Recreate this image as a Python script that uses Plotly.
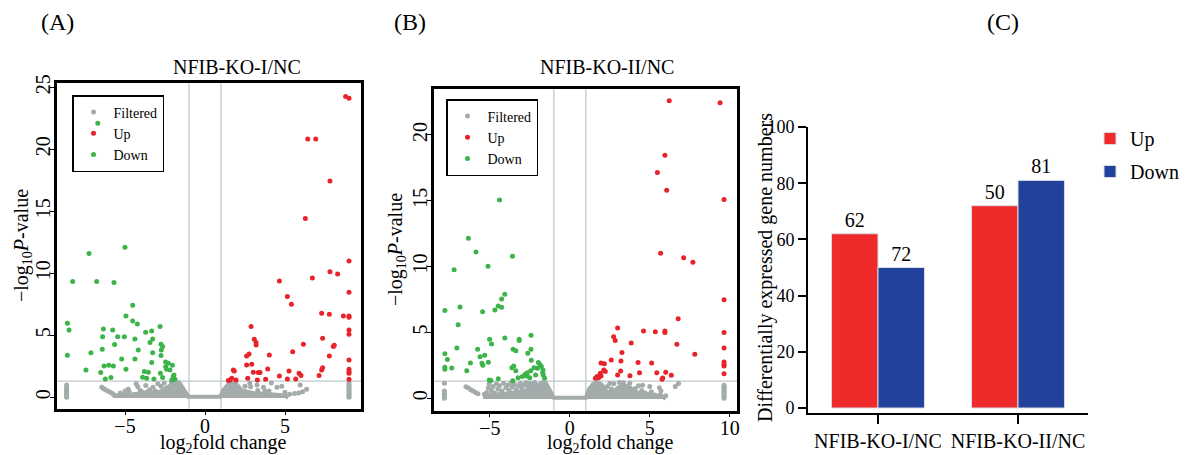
import plotly.graph_objects as go

# ---------------- data ----------------
# thresholds used in the volcano plots
fc_cut = 1.0          # |log2 fold change|
p_cut = 1.3           # -log10(0.05)

# Panel A : NFIB-KO-I/NC  (x = log2 fold change, y = -log10 P)
a_up = [(8.79, 24.25), (9.0, 24.11), (6.42, 20.83), (6.92, 20.83), (7.81, 17.45), (6.27, 14.41),
        (9.0, 10.99), (4.65, 9.38), (7.81, 10.13), (8.29, 9.95), (6.71, 9.62), (9.0, 8.47),
        (5.15, 8.12), (5.4, 7.5), (7.29, 6.77), (7.77, 6.69), (8.65, 6.56), (9.0, 6.56),
        (9.0, 6.45), (9.0, 5.43), (9.0, 5.08), (2.88, 5.70), (3.08, 4.68), (3.19, 4.41),
        (3.19, 4.22), (7.35, 4.76), (6.15, 4.27), (8.02, 4.09), (8.08, 4.19), (5.48, 3.68),
        (4.02, 3.41), (2.75, 3.49), (2.6, 3.33), (7.77, 3.33), (9.0, 3.01), (2.6, 2.61),
        (2.92, 2.66), (1.77, 2.2), (1.83, 2.12), (3.02, 2.02), (3.33, 1.99), (3.44, 1.99),
        (3.92, 2.28), (5.25, 2.12), (7.29, 2.2), (7.35, 2.39), (9.0, 2.26), (9.0, 2.07),
        (9.0, 1.94), (5.88, 1.94), (6.0, 1.75), (7.13, 1.75), (4.65, 1.72), (5.15, 1.48),
        (5.67, 1.48), (2.67, 1.53), (3.27, 1.40), (3.79, 1.45), (1.56, 1.40), (1.67, 1.53),
        (1.94, 1.40), (9.0, 1.45), (1.46, 1.35)]
a_down = [(-5.0, 12.1), (-7.25, 11.6), (-8.27, 9.33), (-6.77, 9.33), (-5.69, 9.25), (-4.52, 7.42),
          (-4.94, 6.56), (-4.52, 6.16), (-4.23, 5.91), (-8.6, 5.97), (-8.5, 5.43), (-6.35, 5.51),
          (-5.77, 5.43), (-5.46, 4.89), (-5.04, 4.89), (-6.4, 4.89), (-3.71, 5.24), (-3.33, 5.35),
          (-2.81, 5.70), (-4.38, 4.70), (-3.27, 4.70), (-3.44, 4.41), (-2.75, 4.27), (-2.65, 4.09),
          (-5.65, 4.25), (-6.42, 3.87), (-4.17, 3.82), (-2.73, 3.82), (-3.27, 3.6), (-7.13, 3.6),
          (-8.6, 3.39), (-5.21, 3.09), (-4.38, 3.09), (-2.75, 3.36), (-3.33, 2.80), (-2.46, 2.85),
          (-2.29, 2.74), (-6.31, 2.53), (-6.02, 2.58), (-5.73, 2.53), (-2.46, 2.47), (-2.04, 2.58),
          (-7.44, 2.2), (-4.94, 2.26), (-6.52, 1.99), (-3.79, 2.07), (-3.54, 2.02), (-2.79, 1.94),
          (-3.9, 1.61), (-3.65, 1.53), (-3.19, 1.48), (-2.65, 1.59), (-6.23, 1.48), (-5.88, 1.59),
          (-1.98, 1.67), (-1.88, 1.45), (-2.08, 1.40), (-1.94, 1.80), (-2.19, 2.20), (-2.4, 2.26),
          (-6.7, 22.1)]
# dense cloud of non-significant genes (outline of the overlapping points)
a_filtered_core = [(-5.6, -0.05), (-5.6, 0.15), (-4.5, 0.25), (-3.5, 0.35), (-2.8, 0.45), (-2.5, 0.7),
                   (-2.1, 0.95), (-1.8, 1.22), (-1.6, 1.18), (-1.3, 0.6), (-1.05, 0.05), (0.95, 0.05),
                   (1.15, 0.6), (1.45, 1.05), (1.7, 1.22), (1.95, 1.1), (2.3, 0.55), (3.0, 0.35),
                   (4.0, 0.25), (5.0, 0.15), (5.2, -0.05)]
a_filtered = [(-8.65, 0.0), (-8.65, 0.12), (-8.65, 0.25), (-8.65, 0.38), (-8.65, 0.5), (-8.65, 0.62),
              (-8.65, 0.75), (-8.65, 1.0), (-6.45, 0.8), (-6.35, 0.7), (-6.25, 0.62), (-6.1, 0.52),
              (-5.95, 0.42), (-5.8, 0.32), (-5.7, 0.2), (-4.8, 0.65), (-4.75, 0.45), (-4.3, 1.1),
              (-4.2, 0.85), (-4.05, 0.55), (-3.9, 0.4), (-3.45, 0.6), (-3.25, 0.8), (-3.1, 0.5),
              (-2.75, 0.9), (-2.55, 1.15), (-2.4, 0.75), (-2.1, 1.1), (-5.3, 0.35), (-5.0, 0.5),
              (-3.7, 0.95), (-2.95, 1.1), (-3.6, 0.45), (2.8, 1.15), (2.85, 0.85), (3.25, 1.0),
              (3.3, 0.55), (3.65, 0.8), (3.75, 0.5), (4.15, 1.15), (4.5, 0.8), (4.8, 0.9),
              (5.0, 0.4), (5.3, 0.25), (5.6, 0.3), (5.85, 0.35), (5.95, 1.0), (6.35, 0.65),
              (6.1, 0.45), (2.5, 0.9), (4.0, 0.5), (9.0, 0.0), (9.0, 0.12), (9.0, 0.25),
              (9.0, 0.38), (9.0, 0.5), (9.0, 0.62), (9.0, 0.75), (9.0, 0.88), (9.0, 1.0), (9.0, 1.15)]

# Panel B : NFIB-KO-II/NC
b_up = [(6.22, 22.6), (9.4, 22.43), (5.95, 18.46), (5.48, 17.14), (6.06, 15.8), (9.65, 15.09),
        (5.68, 11.01), (7.12, 10.68), (7.7, 10.33), (9.65, 7.49), (6.78, 6.05), (2.99, 5.34),
        (4.61, 5.11), (5.35, 5.06), (5.95, 5.11), (5.95, 4.99), (9.65, 4.99), (2.74, 4.68),
        (2.84, 4.38), (3.84, 4.2), (6.7, 4.1), (9.65, 3.82), (3.26, 3.47), (7.82, 3.34),
        (2.59, 2.91), (3.2, 2.84), (1.95, 2.68), (2.16, 2.63), (4.27, 2.71), (5.12, 2.68),
        (9.65, 2.76), (9.65, 2.56), (9.65, 2.46), (9.65, 1.87), (2.12, 2.15), (2.22, 2.03),
        (3.18, 2.08), (4.36, 1.95), (5.44, 1.95), (6.0, 1.97), (2.99, 1.77), (3.76, 1.72),
        (6.35, 1.75), (1.91, 1.90), (1.95, 1.70), (1.7, 1.65), (1.6, 1.52), (1.8, 1.57),
        (5.81, 1.54), (5.77, 1.44)]
b_down = [(-4.4, 15.06), (-6.35, 12.15), (-5.87, 11.11), (-3.59, 10.78), (-7.24, 9.77), (-5.12, 10.03),
          (-4.07, 7.9), (-4.27, 7.54), (-4.48, 7.01), (-4.27, 6.91), (-4.69, 6.71), (-6.87, 6.94),
          (-7.82, 6.66), (-5.46, 6.58), (-6.99, 5.59), (-2.43, 4.78), (-4.07, 4.58), (-3.17, 4.48),
          (-3.17, 4.38), (-5.02, 4.48), (-4.9, 4.13), (-7.07, 3.82), (-5.77, 3.72), (-3.55, 3.72),
          (-3.38, 3.62), (-2.43, 3.72), (-7.82, 3.39), (-5.33, 3.27), (-5.62, 3.16), (-7.66, 2.94),
          (-6.22, 2.68), (-5.1, 2.73), (-5.5, 2.66), (-5.44, 2.51), (-2.41, 2.89), (-2.63, 3.42),
          (-7.82, 2.35), (-7.82, 2.2), (-7.39, 2.30), (-6.45, 2.1), (-3.51, 2.46), (-3.63, 2.33),
          (-3.38, 2.1), (-1.97, 2.71), (-1.87, 2.56), (-1.78, 2.41), (-1.68, 2.15), (-2.03, 2.28),
          (-2.24, 2.33), (-2.45, 2.1), (-2.66, 1.95), (-2.8, 1.82), (-2.97, 1.65), (-3.24, 1.57),
          (-3.57, 1.34), (-4.48, 1.49), (-5.04, 1.39), (-4.94, 1.35), (-1.66, 1.77), (-1.58, 1.52),
          (-2.14, 1.77), (-1.7, 1.95), (-2.51, 1.57), (-2.7, 1.7)]
b_filtered_core = [(-5.3, -0.05), (-5.3, 0.2), (-4.5, 0.3), (-3.5, 0.4), (-2.8, 0.55), (-2.4, 0.8),
                   (-2.0, 1.0), (-1.7, 1.22), (-1.5, 1.18), (-1.25, 0.6), (-1.0, 0.05), (1.0, 0.05),
                   (1.2, 0.7), (1.45, 1.1), (1.7, 1.22), (2.0, 1.05), (2.3, 0.5), (2.7, 0.45),
                   (3.0, 0.8), (3.4, 1.0), (3.8, 0.8), (4.2, 0.45), (5.0, 0.3), (5.8, 0.15), (6.0, -0.05)]
b_filtered = [(-7.85, 0.0), (-7.85, 0.1), (-7.85, 0.2), (-7.85, 0.3), (-7.85, 0.4), (-7.85, 0.55),
              (-7.85, 1.15), (-6.5, 0.88), (-6.35, 0.78), (-6.2, 0.65), (-6.05, 0.55), (-5.9, 0.45),
              (-5.75, 0.35), (-5.2, 0.45), (-5.1, 0.8), (-5.05, 1.1), (-4.9, 0.6), (-4.8, 0.9),
              (-4.7, 0.4), (-4.6, 1.1), (-4.5, 0.7), (-4.4, 0.95), (-4.25, 0.55), (-4.15, 1.15),
              (-4.0, 0.8), (-3.9, 1.0), (-3.8, 0.6), (-3.7, 1.15), (-3.6, 0.85), (-3.45, 1.05),
              (-3.35, 0.65), (-3.2, 0.95), (-3.1, 1.15), (-3.0, 0.75), (-2.85, 1.0), (-2.75, 1.2),
              (-2.6, 0.9), (-2.5, 1.15), (-2.35, 1.05), (-2.2, 1.2), (-5.35, 0.3), (-4.95, 0.25),
              (-4.35, 0.35), (-3.55, 0.4), (-2.95, 0.45), (2.35, 0.9), (2.5, 1.15), (2.6, 0.7),
              (2.75, 1.1), (3.1, 1.2), (3.35, 1.18), (3.75, 1.15), (3.9, 0.6), (4.1, 0.75),
              (4.3, 0.95), (4.5, 0.6), (4.7, 0.4), (4.9, 0.3), (5.1, 0.5), (5.3, 0.25), (5.6, 0.8),
              (5.65, 0.25), (5.7, 0.55), (6.0, 0.2), (6.6, 0.9), (6.8, 1.13), (5.0, 0.9), (4.55, 1.0),
              (9.65, 0.0), (9.65, 0.1), (9.65, 0.2), (9.65, 0.3), (9.65, 0.4), (9.65, 0.5),
              (9.65, 0.6), (9.65, 0.7), (9.65, 0.8), (9.65, 0.9), (9.65, 1.0)]

# Panel C : counts of differentially expressed genes
groups = ["NFIB-KO-I/NC", "NFIB-KO-II/NC"]
up_counts = [62, 72]
down_counts = [50, 81]
up_labels = ["62", "50"]
down_labels = ["72", "81"]

# ---------------- style ----------------
FONT = "Liberation Serif, Times New Roman, serif"
GREY = "#A3ABAB"
RED = "#E8232A"
GREEN = "#3DB44A"
BAR_RED = "#EE2A2A"
BAR_BLUE = "#22419A"
GUIDE = "#BFC8CA"
PAGE_W, PAGE_H = 1191, 455
OFF = 8                      # default page margin around the figure
W, H = PAGE_W - OFF, PAGE_H - OFF


def px_x(p):
    return (p - OFF) / W


def px_y(p):
    return 1 - (p - OFF) / H


def xs(pts):
    return [p[0] for p in pts]


def ys(pts):
    return [p[1] for p in pts]


fig = go.Figure()

panels = [
    ("x", "y", "legend", a_filtered_core, a_filtered, a_up, a_down),
    ("x2", "y2", "legend2", b_filtered_core, b_filtered, b_up, b_down),
]
for xa, ya, lg, core, filt, up, down in panels:
    fig.add_trace(go.Scatter(x=xs(core), y=ys(core), mode="lines", fill="toself",
                             fillcolor=GREY, line=dict(color=GREY, width=4),
                             xaxis=xa, yaxis=ya, showlegend=False, hoverinfo="skip"))
    fig.add_trace(go.Scatter(x=xs(filt), y=ys(filt), mode="markers", name="Filtered",
                             marker=dict(color=GREY, size=5), xaxis=xa, yaxis=ya, legend=lg))
    fig.add_trace(go.Scatter(x=xs(up), y=ys(up), mode="markers", name="Up",
                             marker=dict(color=RED, size=5), xaxis=xa, yaxis=ya, legend=lg))
    fig.add_trace(go.Scatter(x=xs(down), y=ys(down), mode="markers", name="Down",
                             marker=dict(color=GREEN, size=5), xaxis=xa, yaxis=ya, legend=lg))

fig.add_trace(go.Bar(x=groups, y=up_counts, name="Up", text=up_labels, textposition="outside",
                     textfont=dict(size=20, color="black", family=FONT), cliponaxis=False,
                     marker=dict(color=BAR_RED, line=dict(color="#D6DCE8", width=1)),
                     xaxis="x3", yaxis="y3", legend="legend3", legendgroup="up"))
fig.add_trace(go.Bar(x=groups, y=down_counts, name="Down", text=down_labels, textposition="outside",
                     textfont=dict(size=20, color="black", family=FONT), cliponaxis=False,
                     marker=dict(color=BAR_BLUE, line=dict(color="#D6DCE8", width=1)),
                     xaxis="x3", yaxis="y3", legend="legend3", legendgroup="down"))

frame = dict(showline=True, mirror=True, linecolor="black", linewidth=2.5, ticks="outside",
             ticklen=4, tickwidth=1, tickcolor="black", showgrid=False, zeroline=False,
             automargin=False, tickfont=dict(size=20, family=FONT, color="black"))

fig.update_layout(
    width=W, height=H, margin=dict(l=0, r=0, t=0, b=0, pad=0, autoexpand=False),
    paper_bgcolor="white", plot_bgcolor="white",
    font=dict(family=FONT, color="black"),
    barmode="group", bargap=0.336, bargroupgap=0,
    xaxis=dict(domain=[px_x(57), px_x(361)], range=[-9.25, 9.75], tickvals=[-5, 0, 5],
               anchor="y", ticklabelstandoff=-6, **frame),
    yaxis=dict(domain=[px_y(408.7), px_y(83.3)], range=[-0.92, 25.32],
               tickvals=[0, 5, 10, 15, 20, 25], tickangle=-90, anchor="x",
               ticklabelstandoff=-8, **frame),
    xaxis2=dict(domain=[px_x(434), px_x(737)], range=[-8.5, 10.46], tickvals=[-5, 0, 5, 10],
                anchor="y2", ticklabelstandoff=-6, **frame),
    yaxis2=dict(domain=[px_y(410.7), px_y(89.3)], range=[-0.94, 23.46],
                tickvals=[0, 5, 10, 15, 20], tickangle=-90, anchor="x2",
                ticklabelstandoff=-8, **frame),
    xaxis3=dict(domain=[px_x(808), px_x(1088)], range=[-0.5, 1.5], type="category",
                anchor="y3", showline=True, linecolor="black", linewidth=2, ticks="outside",
                ticklen=9, tickwidth=2, tickcolor="black", showgrid=False, zeroline=False,
                automargin=False, tickfont=dict(size=20, family=FONT, color="black")),
    yaxis3=dict(domain=[px_y(413), px_y(127)], range=[-1.78, 100], tickvals=[0, 20, 40, 60, 80, 100],
                anchor="x3", showline=True, linecolor="black", linewidth=2, ticks="outside",
                ticklen=8, tickwidth=1.5, tickcolor="black", showgrid=False, zeroline=False,
                automargin=False, tickfont=dict(size=18, family=FONT, color="black")),
    legend=dict(x=px_x(72), y=px_y(95), xanchor="left", yanchor="top", bgcolor="rgba(0,0,0,0)",
                bordercolor="black", borderwidth=1.5, itemwidth=30,
                font=dict(size=14, family=FONT, color="black")),
    legend2=dict(x=px_x(446), y=px_y(99), xanchor="left", yanchor="top", bgcolor="rgba(0,0,0,0)",
                 bordercolor="black", borderwidth=1.5, itemwidth=30,
                 font=dict(size=14, family=FONT, color="black")),
    legend3=dict(x=px_x(1090), y=px_y(119), xanchor="left", yanchor="top", bgcolor="rgba(0,0,0,0)",
                 borderwidth=0, itemwidth=30, traceorder="grouped", tracegroupgap=4,
                 font=dict(size=20, family=FONT, color="black")),
)

# threshold guide lines
for xa, ya in (("x", "y"), ("x2", "y2")):
    for v in (-fc_cut, fc_cut):
        fig.add_shape(type="line", xref=xa, yref=f"{ya} domain", x0=v, x1=v, y0=0, y1=1,
                      line=dict(color=GUIDE, width=1.3), layer="below")
    fig.add_shape(type="line", xref=f"{xa} domain", yref=ya, x0=0, x1=1, y0=p_cut, y1=p_cut,
                  line=dict(color=GUIDE, width=1.3), layer="below")

ann = [
    dict(text="(A)", x=px_x(57), y=px_y(22), size=24, angle=0),
    dict(text="(B)", x=px_x(410), y=px_y(22), size=24, angle=0),
    dict(text="(C)", x=px_x(1003), y=px_y(22), size=24, angle=0),
    dict(text="NFIB-KO-I/NC", x=px_x(237), y=px_y(67), size=20, angle=0),
    dict(text="NFIB-KO-II/NC", x=px_x(607), y=px_y(67), size=20, angle=0),
    dict(text="\u2212log<sub>10</sub><i>P</i>-value", x=px_x(22), y=px_y(246), size=20, angle=-90),
    dict(text="\u2212log<sub>10</sub><i>P</i>-value", x=px_x(397), y=px_y(250), size=20, angle=-90),
    dict(text="log<sub>2</sub>fold change", x=px_x(223), y=px_y(443), size=20, angle=0),
    dict(text="log<sub>2</sub>fold change", x=px_x(610), y=px_y(443), size=20, angle=0),
    dict(text="Differentially expressed gene numbers", x=px_x(765), y=px_y(268), size=20, angle=-90),
]
for a in ann:
    fig.add_annotation(text=a["text"], x=a["x"], y=a["y"], xref="paper", yref="paper",
                       xanchor="center", yanchor="middle", showarrow=False, textangle=a["angle"],
                       font=dict(size=a["size"], family=FONT, color="black"))

fig.write_html("out.html")
